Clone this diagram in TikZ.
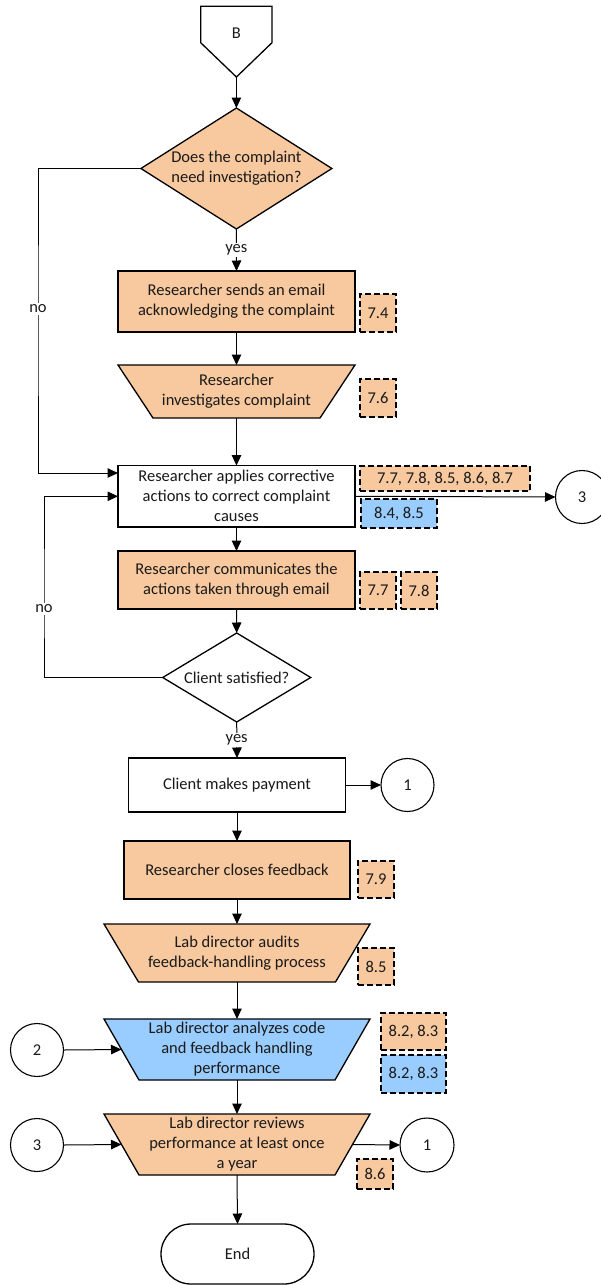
\documentclass[tikz,border=0pt]{standalone}
\usepackage{fontspec}
\setmainfont{Carlito}
\usetikzlibrary{shapes.geometric,arrows.meta}
\definecolor{peach}{HTML}{F8C89E}
\definecolor{sky}{HTML}{99CCFF}
\definecolor{ink}{HTML}{1A1A1A}
% manual-operation step: inverted trapezoid with its text node and side points
% #1 name, #2 x, #3 y, #4 half top width, #5 half bottom width, #6 half height, #7 fill, #8 text
\newcommand\flowtrap[8]{%
  \filldraw[fill=#7, draw=black, line width=1.3pt, line join=miter]
    (#2-#4,#3-#6) -- (#2+#4,#3-#6) -- (#2+#5,#3+#6) -- (#2-#5,#3+#6) -- cycle;
  \node[align=center, minimum width=2*#4pt, minimum height=2*#6pt] (#1) at (#2,#3) {#8};
  \coordinate (#1-w) at (#2-#4/2-#5/2,#3);
  \coordinate (#1-e) at (#2+#4/2+#5/2,#3);
}
\begin{document}
\begin{tikzpicture}[x=1pt,y=-1pt,
  font=\fontsize{16.5}{20}\selectfont, text=ink,
  every node/.style={inner sep=0pt, outer sep=0pt},
  proc/.style={draw=black, line width=1.3pt, align=center, minimum width=237pt, minimum height=61pt},
  decide/.style={diamond, draw=black, line width=1.3pt, align=center},
  tag/.style={draw=black, dash pattern=on 6pt off 3pt, line width=1.4pt,
    fill=peach, minimum width=36pt, minimum height=37pt},
  conn/.style={circle, draw=black, line width=1.1pt, minimum size=53pt},
  lbl/.style={fill=white, inner sep=1.5pt},
  flow/.style={line width=1pt, -{Triangle[length=10.5pt,width=9.5pt]}}
]
\fill[white] (0,0) rectangle (600,1285);
\useasboundingbox (0,0) rectangle (600,1285);

% off-page connector
\draw[line width=1.3pt, line join=miter] (200.7,6.3) -- (272,6.3) -- (272,42.7)
  -- (236.4,77) -- (200.7,42.7) -- cycle;
\node (B) at (236.4,33) {B};
\coordinate (Btip) at (236.4,77);

% decisions
\node[decide, fill=peach, aspect=1.58, minimum width=191pt, minimum height=121pt]
  (d1) at (236.4,168.5) {Does the complaint\\need investigation?};
\node[decide, fill=white, aspect=1.66, minimum width=148pt, minimum height=89pt]
  (d2) at (236.7,677.5) {Client satisfied?};

% process steps
\node[proc, fill=peach] (b1) at (236.5,301.5) {Researcher sends an email\\acknowledging the complaint};
\flowtrap{b2}{236.5}{391.5}{118.5}{83.5}{26.5}{peach}{Researcher\\investigates complaint}
\node[proc, fill=white, minimum height=61.5pt] (b3) at (236.5,496.3)
  {Researcher applies corrective\\actions to correct complaint\\causes};
\node[proc, fill=peach, minimum height=58pt] (b4) at (236.5,580) {Researcher communicates the\\actions taken through email};
\node[proc, fill=white, minimum width=216.5pt, minimum height=54pt] (b5) at (237,785) {Client makes payment};
\node[proc, fill=peach, minimum width=226pt, minimum height=58pt] (b6) at (237,870) {Researcher closes feedback};
\flowtrap{b7}{237}{953}{133}{98.5}{29}{peach}{Lab director audits\\feedback-handling process}
\flowtrap{b8}{237}{1049.5}{133}{98}{30.5}{sky}{Lab director analyzes code\\and feedback handling\\performance}
\flowtrap{b9}{237}{1144.5}{133}{98}{30.5}{peach}{Lab director reviews\\performance at least once\\a year}
\node[draw=black, line width=1.3pt, rounded corners=30pt, minimum width=153pt,
  minimum height=60pt, fill=white] (end) at (237.5,1254) {End};

% reference tags
\node[tag, minimum height=38pt] (t1) at (378,313) {7.4};
\node[tag, minimum height=38pt] (t2) at (378,398) {7.6};
\node[tag, minimum width=170pt, minimum height=25pt] (t3) at (445,478.5) {7.7, 7.8, 8.5, 8.6, 8.7};
\node[tag, fill=sky, minimum width=76pt, minimum height=29pt] (t4) at (399,513.5) {8.4, 8.5};
\node[tag] (t5) at (378,590.5) {7.7};
\node[tag] (t6) at (419,590.5) {7.8};
\node[tag] (t7) at (376,879.5) {7.9};
\node[tag] (t8) at (376,966.5) {8.5};
\node[tag, minimum width=65pt] (t9) at (413.5,1031.5) {8.2, 8.3};
\node[tag, fill=sky, minimum width=65pt, minimum height=38pt] (t10) at (413.5,1074) {8.2, 8.3};
\node[tag, minimum height=30pt] (t11) at (375,1174) {8.6};

% connectors
\node[conn] (c3a) at (582,497) {3};
\node[conn] (c1a) at (407.5,785) {1};
\node[conn] (c2) at (37,1050) {2};
\node[conn] (c3b) at (37,1145) {3};
\node[conn, minimum size=54pt] (c1b) at (427,1145) {1};

% flow lines
\draw[flow] (Btip) -- (d1.north);
\draw[flow] (d1.south) -- (b1.north);
\draw[flow] (b1.south) -- (b2.north);
\draw[flow] (b2.south) -- (b3.north);
\coordinate (nA) at (38,320);
\draw[flow] (d1.west) -| (nA) |- ([yshift=23.3pt]b3.west);
\coordinate (nB) at (44,600);
\draw[flow] (d2.west) -| (nB) |- (b3.west);
\draw[flow] (b3.east) -- (c3a.west);
\draw[flow] (b3.south) -- (b4.north);
\draw[flow] (b4.south) -- (d2.north);
\draw[flow] (d2.south) -- (b5.north);
\draw[flow] (b5.east) -- (c1a.west);
\draw[flow] (b5.south) -- (b6.north);
\draw[flow] (b6.south) -- (b7.north);
\draw[flow] (b7.south) -- (b8.north);
\draw[flow] (c2.east) -- (b8-w);
\draw[flow] (b8.south) -- (b9.north);
\draw[flow] (c3b.east) -- (b9-w);
\draw[flow] (b9-e) -- (c1b.west);
\draw[flow] (b9.south) -- (end.north);

% branch labels
\node[lbl] (yes1) at (236.4,250) {yes};
\node[lbl] (yes2) at (236.7,740) {yes};
\node[lbl] (no1) at (38,309) {no};
\node[lbl] (no2) at (44,609) {no};
\end{tikzpicture}
\end{document}
